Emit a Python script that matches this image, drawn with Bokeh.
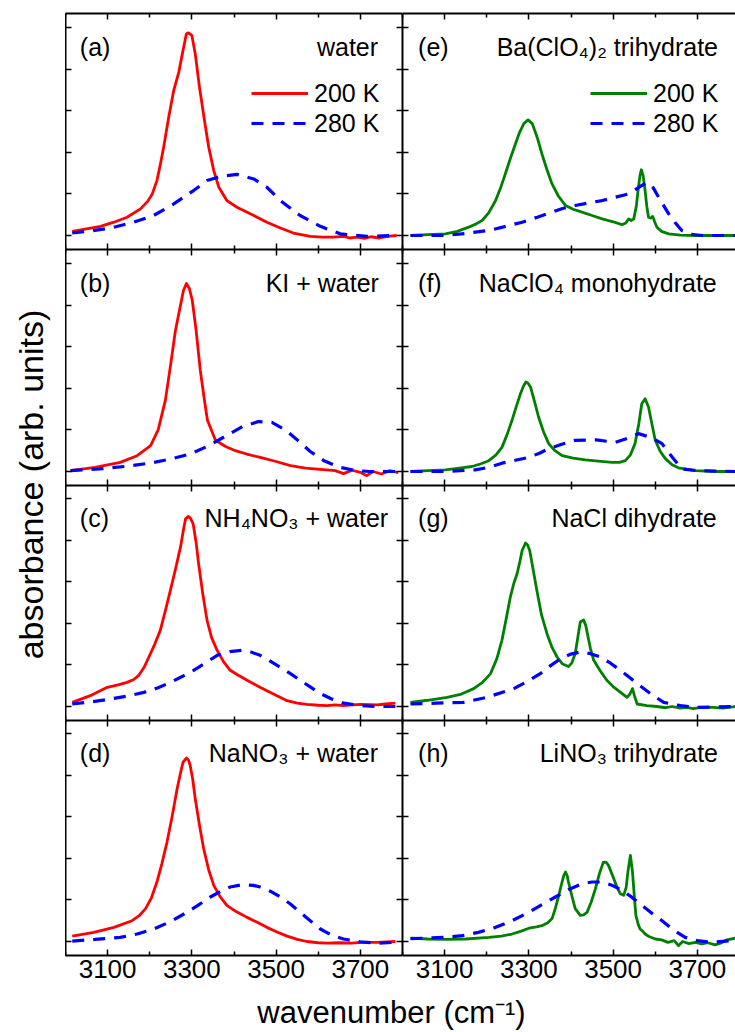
import math
from bokeh.plotting import figure
from bokeh.layouts import row, column
from bokeh.models import (Range1d, FixedTicker, LinearAxis, Label, Legend,
                          LegendItem, CustomLabelingPolicy)
from bokeh.embed import file_html
from bokeh.resources import INLINE

FONT = "Liberation Sans"

# ---------------- data (wavenumber in cm^-1, absorbance in arb. units) ----------------
a_wn_200 = [3016, 3050, 3083, 3115, 3146, 3178, 3195, 3206, 3217, 3225, 3233, 3245, 3257, 3269, 3279, 3287, 3292, 3300, 3308, 3318, 3330, 3340, 3352, 3364, 3383, 3407, 3447, 3478, 3510, 3541, 3581, 3610, 3636, 3660, 3675, 3692, 3710, 3725, 3745, 3765, 3786]
a_ab_200 = [0.10, 0.16, 0.22, 0.32, 0.44, 0.64, 0.82, 1.0, 1.32, 1.7, 2.12, 2.84, 3.49, 3.93, 4.45, 4.85, 4.87, 4.81, 4.37, 3.57, 2.76, 2.12, 1.56, 1.16, 0.84, 0.68, 0.48, 0.32, 0.18, 0.06, -0.02, -0.04, -0.04, -0.02, -0.06, -0.04, -0.07, -0.03, -0.06, -0.02, 0.0]
a_wn_280 = [3016, 3060, 3107, 3162, 3209, 3257, 3304, 3336, 3368, 3407, 3447, 3478, 3510, 3557, 3605, 3652, 3715, 3786]
a_ab_280 = [0.06, 0.11, 0.18, 0.32, 0.48, 0.76, 1.08, 1.32, 1.42, 1.47, 1.36, 1.16, 0.84, 0.48, 0.22, 0.04, -0.02, 0.0]

b_wn_200 = [3012, 3070, 3130, 3170, 3202, 3220, 3237, 3250, 3261, 3272, 3280, 3287, 3294, 3301, 3310, 3320, 3330, 3337, 3356, 3380, 3403, 3430, 3462, 3500, 3534, 3570, 3605, 3640, 3660, 3680, 3700, 3715, 3730, 3750, 3770, 3790]
b_ab_200 = [0.02, 0.1, 0.22, 0.38, 0.62, 1.0, 1.71, 2.6, 3.39, 3.95, 4.35, 4.52, 4.4, 4.11, 3.4, 2.43, 1.7, 1.23, 0.75, 0.6, 0.5, 0.42, 0.34, 0.24, 0.14, 0.08, 0.05, 0.02, -0.05, 0.03, -0.02, -0.1, 0.0, -0.06, 0.02, -0.03]
b_wn_280 = [3012, 3080, 3140, 3200, 3250, 3296, 3340, 3380, 3420, 3458, 3490, 3522, 3555, 3581, 3615, 3652, 3690, 3723, 3790]
b_ab_280 = [0.02, 0.06, 0.12, 0.2, 0.3, 0.42, 0.62, 0.85, 1.08, 1.2, 1.18, 1.0, 0.72, 0.48, 0.25, 0.1, 0.02, 0.0, 0.0]

c_wn_200 = [3016, 3059, 3099, 3125, 3146, 3162, 3174, 3186, 3198, 3212, 3225, 3237, 3249, 3261, 3273, 3280, 3285, 3292, 3297, 3303, 3310, 3316, 3326, 3336, 3347, 3360, 3375, 3391, 3410, 3431, 3455, 3478, 3502, 3526, 3550, 3573, 3600, 3621, 3640, 3660, 3680, 3700, 3740, 3760, 3783]
c_ab_200 = [0.10, 0.26, 0.46, 0.52, 0.58, 0.65, 0.75, 0.93, 1.19, 1.5, 1.83, 2.3, 2.79, 3.3, 3.83, 4.25, 4.51, 4.57, 4.52, 4.39, 3.95, 3.43, 2.7, 2.07, 1.65, 1.35, 1.08, 0.87, 0.75, 0.63, 0.5, 0.38, 0.26, 0.14, 0.08, 0.05, 0.03, 0.02, 0.04, 0.02, 0.04, 0.05, 0.04, 0.06, 0.08]
c_wn_280 = [3016, 3060, 3107, 3146, 3186, 3220, 3249, 3277, 3304, 3333, 3360, 3390, 3419, 3440, 3462, 3486, 3510, 3534, 3557, 3581, 3605, 3632, 3660, 3700, 3739, 3783]
c_ab_280 = [0.06, 0.11, 0.18, 0.25, 0.34, 0.45, 0.58, 0.72, 0.87, 1.05, 1.23, 1.32, 1.35, 1.31, 1.23, 1.09, 0.94, 0.79, 0.63, 0.47, 0.31, 0.18, 0.08, 0.02, 0.0, 0.0]

d_wn_200 = [3016, 3067, 3115, 3158, 3175, 3190, 3204, 3217, 3229, 3241, 3253, 3265, 3273, 3279, 3287, 3292, 3296, 3302, 3308, 3318, 3328, 3340, 3352, 3367, 3383, 3405, 3431, 3455, 3478, 3502, 3526, 3550, 3573, 3600, 3621, 3650, 3680, 3700, 3740, 3783]
d_ab_200 = [0.13, 0.22, 0.34, 0.5, 0.62, 0.79, 1.05, 1.43, 1.88, 2.39, 3.0, 3.67, 4.05, 4.31, 4.41, 4.36, 4.23, 3.9, 3.43, 2.8, 2.23, 1.72, 1.35, 1.08, 0.87, 0.72, 0.58, 0.46, 0.34, 0.23, 0.13, 0.05, 0.0, -0.03, -0.04, -0.03, -0.04, -0.02, -0.02, 0.0]
d_wn_280 = [3016, 3070, 3130, 3170, 3209, 3250, 3288, 3316, 3344, 3367, 3391, 3411, 3431, 3446, 3462, 3486, 3510, 3534, 3557, 3581, 3605, 3632, 3660, 3700, 3739, 3783]
d_ab_280 = [0.01, 0.05, 0.1, 0.18, 0.3, 0.48, 0.7, 0.88, 1.07, 1.2, 1.31, 1.35, 1.36, 1.35, 1.31, 1.21, 1.07, 0.9, 0.7, 0.5, 0.3, 0.15, 0.06, -0.01, -0.04, -0.02]

e_wn_200 = [3019, 3060, 3102, 3130, 3157, 3175, 3189, 3205, 3221, 3233, 3244, 3256, 3268, 3278, 3288, 3298, 3308, 3320, 3331, 3343, 3355, 3370, 3387, 3405, 3426, 3450, 3474, 3500, 3521, 3530, 3537, 3543, 3549, 3555, 3560, 3564, 3567, 3571, 3575, 3580, 3584, 3589, 3594, 3599, 3604, 3615, 3632, 3660, 3695, 3740, 3790]
e_ab_200 = [0.0, 0.02, 0.04, 0.1, 0.2, 0.28, 0.36, 0.55, 0.84, 1.15, 1.48, 1.85, 2.2, 2.48, 2.69, 2.78, 2.69, 2.35, 1.96, 1.58, 1.24, 0.95, 0.72, 0.63, 0.56, 0.48, 0.4, 0.33, 0.26, 0.3, 0.4, 0.36, 0.4, 0.7, 1.16, 1.45, 1.58, 1.45, 1.16, 0.7, 0.44, 0.42, 0.46, 0.32, 0.2, 0.1, 0.04, 0.01, 0.0, 0.0, 0.0]
e_wn_280 = [3019, 3102, 3150, 3205, 3245, 3284, 3320, 3355, 3380, 3410, 3440, 3474, 3505, 3537, 3560, 3580, 3595, 3608, 3620, 3632, 3648, 3663, 3685, 3711, 3790]
e_ab_280 = [0.0, 0.0, 0.05, 0.12, 0.22, 0.32, 0.44, 0.56, 0.65, 0.72, 0.78, 0.84, 0.92, 1.0, 1.15, 1.28, 1.15, 0.92, 0.72, 0.52, 0.3, 0.12, 0.03, 0.0, 0.0]

f_wn_200 = [3019, 3060, 3102, 3135, 3165, 3185, 3205, 3222, 3236, 3248, 3260, 3270, 3280, 3287, 3293, 3298, 3304, 3313, 3323, 3335, 3347, 3362, 3379, 3405, 3434, 3465, 3497, 3515, 3529, 3541, 3552, 3561, 3568, 3576, 3584, 3592, 3600, 3612, 3624, 3640, 3655, 3695, 3740, 3790]
f_ab_200 = [0.0, 0.02, 0.04, 0.08, 0.12, 0.18, 0.26, 0.4, 0.58, 0.88, 1.23, 1.56, 1.87, 2.05, 2.15, 2.12, 2.03, 1.7, 1.31, 0.95, 0.67, 0.5, 0.38, 0.32, 0.28, 0.25, 0.22, 0.22, 0.26, 0.4, 0.67, 1.15, 1.63, 1.75, 1.55, 1.15, 0.75, 0.48, 0.31, 0.16, 0.09, 0.02, 0.0, 0.0]
f_wn_280 = [3019, 3102, 3173, 3205, 3236, 3268, 3300, 3325, 3347, 3380, 3410, 3460, 3505, 3535, 3560, 3590, 3616, 3640, 3663, 3690, 3711, 3790]
f_ab_280 = [0.0, 0.0, 0.04, 0.1, 0.2, 0.27, 0.34, 0.44, 0.55, 0.66, 0.75, 0.76, 0.7, 0.8, 0.91, 0.82, 0.67, 0.35, 0.06, 0.03, 0.02, 0.0]

g_wn_200 = [3019, 3060, 3106, 3140, 3169, 3190, 3209, 3224, 3236, 3246, 3256, 3264, 3272, 3279, 3284, 3292, 3297, 3302, 3310, 3319, 3330, 3343, 3355, 3367, 3380, 3394, 3402, 3410, 3416, 3422, 3430, 3435, 3439, 3446, 3454, 3470, 3485, 3500, 3520, 3533, 3540, 3546, 3551, 3557, 3580, 3604, 3625, 3640, 3659, 3675, 3690, 3710, 3738, 3760, 3790]
g_ab_200 = [0.1, 0.15, 0.22, 0.3, 0.43, 0.58, 0.79, 1.15, 1.59, 2.1, 2.63, 2.95, 3.19, 3.5, 3.75, 3.93, 3.88, 3.75, 3.3, 2.79, 2.2, 1.75, 1.42, 1.19, 1.02, 0.96, 1.05, 1.27, 1.65, 2.03, 2.08, 1.95, 1.75, 1.4, 1.11, 0.85, 0.63, 0.48, 0.32, 0.22, 0.3, 0.43, 0.25, 0.06, 0.02, 0.0, -0.03, 0.0, -0.04, -0.02, -0.05, -0.02, -0.02, -0.04, 0.0]
g_wn_280 = [3019, 3080, 3145, 3200, 3264, 3296, 3327, 3350, 3375, 3400, 3422, 3446, 3470, 3494, 3517, 3540, 3564, 3590, 3620, 3660, 3699, 3790]
g_ab_280 = [0.06, 0.08, 0.1, 0.22, 0.43, 0.6, 0.79, 0.97, 1.15, 1.26, 1.31, 1.27, 1.19, 1.04, 0.87, 0.69, 0.5, 0.3, 0.1, 0.02, -0.02, 0.0]

h_wn_200 = [3019, 3060, 3102, 3150, 3205, 3235, 3260, 3282, 3300, 3318, 3331, 3345, 3355, 3363, 3371, 3378, 3383, 3387, 3391, 3394, 3402, 3410, 3422, 3430, 3438, 3448, 3458, 3468, 3477, 3484, 3489, 3500, 3509, 3517, 3525, 3531, 3535, 3541, 3546, 3551, 3554, 3560, 3564, 3570, 3576, 3585, 3600, 3615, 3630, 3645, 3655, 3665, 3680, 3695, 3710, 3725, 3742, 3755, 3770, 3790]
h_ab_200 = [0.08, 0.06, 0.05, 0.06, 0.1, 0.13, 0.18, 0.25, 0.32, 0.35, 0.38, 0.45, 0.55, 0.8, 1.11, 1.4, 1.59, 1.67, 1.58, 1.43, 1.1, 0.79, 0.63, 0.64, 0.7, 0.95, 1.27, 1.65, 1.91, 1.9, 1.83, 1.55, 1.31, 1.15, 1.11, 1.3, 1.67, 2.07, 1.67, 1.0, 0.63, 0.4, 0.3, 0.25, 0.18, 0.12, 0.06, 0.04, -0.02, 0.02, -0.1, 0.0, -0.05, -0.02, -0.06, -0.03, -0.08, -0.04, 0.04, 0.08]
h_wn_280 = [3019, 3055, 3100, 3142, 3180, 3221, 3260, 3300, 3330, 3363, 3395, 3426, 3450, 3474, 3500, 3521, 3545, 3568, 3592, 3616, 3640, 3671, 3700, 3734, 3790]
h_ab_280 = [0.07, 0.08, 0.1, 0.14, 0.22, 0.34, 0.5, 0.7, 0.88, 1.07, 1.25, 1.39, 1.43, 1.43, 1.34, 1.23, 1.06, 0.87, 0.68, 0.5, 0.3, 0.1, 0.02, -0.02, 0.03]

x_major_ticks = [3100, 3300, 3500, 3700]
x_minor_ticks = [3000, 3200, 3400, 3600, 3800]
y_ticks = [0, 1, 2, 3, 4, 5]

panel_tags = ["(a)", "(b)", "(c)", "(d)", "(e)", "(f)", "(g)", "(h)"]
panel_names = ["water", "KI + water", "NH\u2084NO\u2083 + water", "NaNO\u2083 + water",
               "Ba(ClO\u2084)\u2082 trihydrate", "NaClO\u2084 monohydrate",
               "NaCl dihydrate", "LiNO\u2083 trihydrate"]
legend_labels = ["200 K", "280 K"]
x_title = "wavenumber (cm\u207b\u00b9)"
y_title = "absorbance (arb. units)"

series = [
    (a_wn_200, a_ab_200, a_wn_280, a_ab_280),
    (b_wn_200, b_ab_200, b_wn_280, b_ab_280),
    (c_wn_200, c_ab_200, c_wn_280, c_ab_280),
    (d_wn_200, d_ab_200, d_wn_280, d_ab_280),
    (e_wn_200, e_ab_200, e_wn_280, e_ab_280),
    (f_wn_200, f_ab_200, f_wn_280, f_ab_280),
    (g_wn_200, g_ab_200, g_wn_280, g_ab_280),
    (h_wn_200, h_ab_200, h_wn_280, h_ab_280),
]

# ---------------- layout constants ----------------
FRAME_H = [236, 236, 235, 235]
TOP = 13
BOTTOM = 37
LEFT_W = 337
RIGHT_W = 333
PX_PER_UNIT = 41.6
BASE_PX = 14
PX_PER_WN = 337 / 800.0
NAME_X = [3742, 3744, 3766, 3742, 3749, 3746, 3746, 3749]
RED = "#ff0000"
GREEN = "#008000"
BLUE = "#0000ff"

NO_LABELS = "for (const i of indices) indices.unset(i)"


def make_axis(ticks, minor, labels):
    ax = LinearAxis(ticker=FixedTicker(ticks=ticks, minor_ticks=minor),
                    axis_line_width=2, axis_line_color="black",
                    major_tick_in=6, major_tick_out=0,
                    minor_tick_in=4, minor_tick_out=0,
                    major_tick_line_width=1.5, minor_tick_line_width=1.5,
                    major_tick_line_color="black", minor_tick_line_color="black")
    if labels:
        ax.major_label_text_font = FONT
        ax.major_label_text_font_size = "26px"
        ax.major_label_text_color = "black"
        ax.major_label_standoff = 4
    else:
        ax.major_label_text_font_size = "0px"
        ax.major_label_standoff = 0
        ax.major_label_policy = CustomLabelingPolicy(code=NO_LABELS)
    return ax


def panel(idx):
    col = idx // 4
    r = idx % 4
    fh = FRAME_H[r]
    w = LEFT_W if col == 0 else RIGHT_W
    mt = TOP if r == 0 else 0
    mb = BOTTOM if r == 3 else 0
    x_end = 3000 + w / PX_PER_WN
    p = figure(width=w, height=fh + mt + mb, output_backend="svg",
               toolbar_location=None,
               x_range=Range1d(3000, x_end),
               y_range=Range1d(-BASE_PX / PX_PER_UNIT, (fh - BASE_PX) / PX_PER_UNIT),
               x_axis_type=None, y_axis_type=None,
               min_border=0, min_border_left=0, min_border_right=0,
               min_border_top=mt, min_border_bottom=mb,
               outline_line_color=None, border_fill_color="white",
               background_fill_color="white")
    p.add_layout(make_axis(x_major_ticks, x_minor_ticks, r == 3), "below")
    p.add_layout(make_axis(x_major_ticks, x_minor_ticks, False), "above")
    p.add_layout(make_axis(y_ticks, [], False), "left")
    if col == 0:
        p.add_layout(make_axis(y_ticks, [], False), "right")

    wn2, ab2, wn8, ab8 = series[idx]
    c200 = RED if col == 0 else GREEN
    r2 = p.line(wn2, ab2, line_color=c200, line_width=2.8, line_join="round")
    r8 = p.line(wn8, ab8, line_color=BLUE, line_width=3.2, line_dash="12 9")

    tag_x = 3034 if col == 0 else 3037
    p.add_layout(Label(x=tag_x, y=4.52, text=panel_tags[idx], text_align="left",
                       text_baseline="middle", text_font=FONT,
                       text_font_size="25px", text_color="black"))
    p.add_layout(Label(x=NAME_X[idx], y=4.52, text=panel_names[idx], text_align="right",
                       text_baseline="middle", text_font=FONT,
                       text_font_size="25px", text_color="black"))
    if r == 0:
        lx = 186 if col == 0 else 188
        leg = Legend(items=[LegendItem(label=legend_labels[0], renderers=[r2]),
                            LegendItem(label=legend_labels[1], renderers=[r8])],
                     location=(lx, fh - 125), padding=0, margin=0, spacing=0,
                     glyph_width=57, glyph_height=30, label_height=30,
                     label_standoff=6, label_text_font=FONT,
                     label_text_font_size="25px", label_text_color="black",
                     border_line_color=None, background_fill_alpha=0)
        p.add_layout(leg)
    return p


panels = [panel(i) for i in range(8)]

total_h = TOP + sum(FRAME_H) + BOTTOM
yfig = figure(width=65, height=total_h, output_backend="svg", toolbar_location=None,
              x_range=Range1d(0, 65), y_range=Range1d(0, total_h),
              x_axis_type=None, y_axis_type=None, min_border=0,
              outline_line_color=None)
yfig.add_layout(Label(x=30, y=total_h - 484, text=y_title, angle=math.pi / 2,
                      text_align="center", text_baseline="middle",
                      text_font=FONT, text_font_size="34px", text_color="black"))

xfig_h = 1032 - total_h
xfig = figure(width=735, height=xfig_h, output_backend="svg", toolbar_location=None,
              x_range=Range1d(0, 735), y_range=Range1d(0, xfig_h),
              x_axis_type=None, y_axis_type=None, min_border=0,
              outline_line_color=None)
xfig.add_layout(Label(x=391, y=xfig_h / 2, text=x_title, text_align="center",
                      text_baseline="middle", text_font=FONT,
                      text_font_size="31px", text_color="black"))

grid = column(row(panels[0], panels[4]), row(panels[1], panels[5]),
              row(panels[2], panels[6]), row(panels[3], panels[7]))
layout = column(row(yfig, grid), xfig)

open("out.html", "w").write(file_html(layout, INLINE))
